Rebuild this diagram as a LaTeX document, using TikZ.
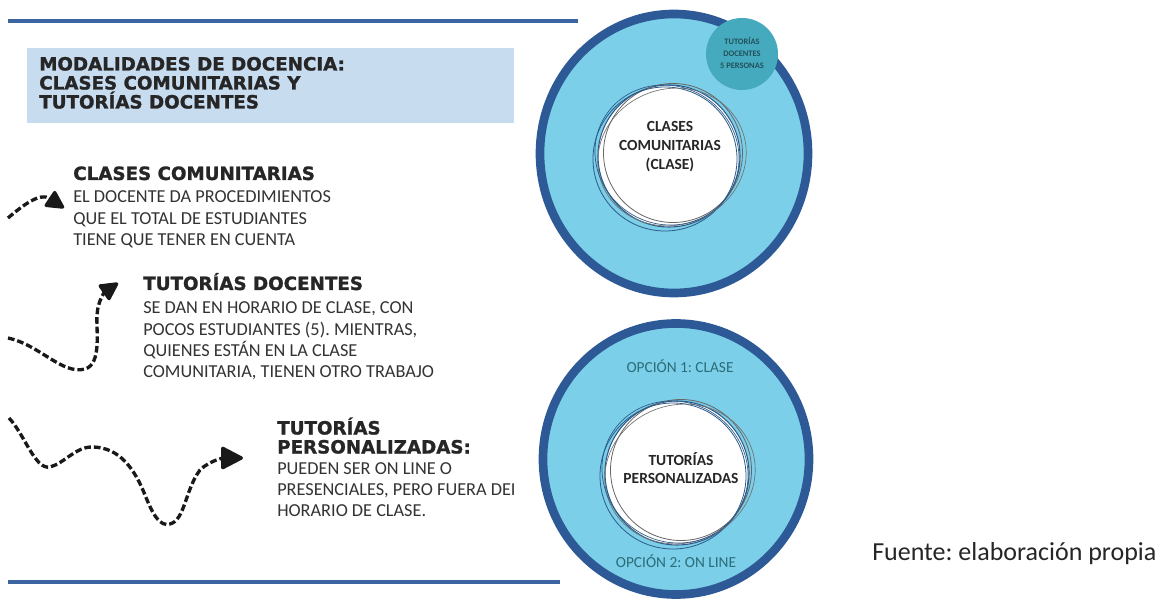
\documentclass[tikz,border=0pt]{standalone}
\usepackage{fontspec}
\setmainfont{Carlito}
\newfontfamily\headfont{DejaVu Sans}[BoldFeatures={FakeBold=1.3}]
\usetikzlibrary{arrows.meta}
\definecolor{ringblue}{HTML}{2D5A96}
\definecolor{ringfill}{HTML}{7CCFE8}
\definecolor{tealc}{HTML}{46AABE}
\definecolor{boxblue}{HTML}{C8DCF0}
\definecolor{lineblue}{HTML}{3C64A0}
\definecolor{txt}{HTML}{333333}
\definecolor{tealtxt}{HTML}{2B6C78}
\definecolor{sketchc}{HTML}{2C5A8A}
\frenchspacing
\begin{document}
\frenchspacing
\begin{tikzpicture}[x=0.75pt,y=-0.75pt,
  heading/.style={anchor=base west, inner sep=0, font=\headfont\bfseries\fontsize{13.7}{14.5}\selectfont, text=black!85},
  bodytext/.style={anchor=base west, inner sep=0, font=\fontsize{13.7}{16}\selectfont, text=txt},
  circlabel/.style={anchor=base, inner sep=0, font=\bfseries\fontsize{11.6}{13}\selectfont, text=black!85},
  optlabel/.style={anchor=base, inner sep=0, font=\fontsize{11.5}{13}\selectfont, text=tealtxt},
  smalllabel/.style={anchor=base, inner sep=0, font=\bfseries\fontsize{6.3}{7}\selectfont, text=tealtxt!75!black},
  wavy/.style={line width=2.5pt, dash pattern=on 5pt off 2.2pt, black!90, -{Triangle[length=15pt,width=15pt,round]}},
  rule/.style={line width=2.4pt, lineblue},
  ring/.style={line width=6.5pt, draw=ringblue, fill=ringfill},
  sketch/.style={line width=0.8pt, draw=sketchc}
]
\useasboundingbox (0,0) rectangle (1168,602);
\fill[white] (0,0) rectangle (1168,602);

% rules
\coordinate (r1a) at (8,21); \coordinate (r1b) at (578,21);
\coordinate (r2a) at (8,582); \coordinate (r2b) at (560,582);
\draw[rule] (r1a) -- (r1b);
\draw[rule] (r2a) -- (r2b);

% title box
\fill[boxblue] (27,48) rectangle (514,123);
\node[heading] (t1) at (39,70.5) {MODALIDADES DE DOCENCIA:};
\node[heading] (t2) at (39,89.5) {CLASES COMUNITARIAS Y};
\node[heading] (t3) at (39,108.5) {TUTORÍAS DOCENTES};

% section 1
\node[heading] (h1) at (73,180) {CLASES COMUNITARIAS};
\node[bodytext] (b11) at (73,203) {EL DOCENTE DA PROCEDIMIENTOS};
\node[bodytext] (b12) at (73,224.5) {QUE EL TOTAL DE ESTUDIANTES};
\node[bodytext] (b13) at (73,246) {TIENE QUE TENER EN CUENTA};

% section 2
\node[heading] (h2) at (143,290) {TUTORÍAS DOCENTES};
\node[bodytext] (b21) at (143,314) {SE DAN EN HORARIO DE CLASE, CON};
\node[bodytext] (b22) at (143,335.3) {POCOS ESTUDIANTES (5). MIENTRAS,};
\node[bodytext] (b23) at (143,356.6) {QUIENES ESTÁN EN LA CLASE};
\node[bodytext] (b24) at (143,378) {COMUNITARIA, TIENEN OTRO TRABAJO};

% section 3
\node[heading] (h3a) at (277,434.5) {TUTORÍAS};
\node[heading] (h3b) at (277,453.5) {PERSONALIZADAS:};
\node[bodytext] (b31) at (277,474) {PUEDEN SER ON LINE O};
\node[bodytext] (b32) at (277,495) {PRESENCIALES, PERO FUERA DEI};
\node[bodytext] (b33) at (277,516) {HORARIO DE CLASE.};

% arrows
\coordinate (a1s) at (8,218); \coordinate (a1e) at (64,208);
\draw[wavy] (a1s) .. controls (22,206) and (40,192) .. (a1e);
\coordinate (a2s) at (8,338); \coordinate (a2e) at (118,283);
\draw[wavy] (a2s) .. controls (40,345) and (62,375) .. (85,369)
   .. controls (102,364) and (96,330) .. (97,315)
   .. controls (98,300) and (105,292) .. (a2e);
\coordinate (a3s) at (9,418); \coordinate (a3e) at (243,458);
\draw[wavy, -{Triangle[length=18pt,width=18pt,round]}] (a3s) .. controls (25,435) and (35,470) .. (50,467)
   .. controls (65,463) and (75,447) .. (92,447)
   .. controls (120,447) and (135,470) .. (145,495)
   .. controls (153,515) and (160,527) .. (170,524)
   .. controls (185,520) and (185,490) .. (200,470)
   .. controls (210,460) and (225,458) .. (a3e);

% top circle
\draw[ring] (674,153.5) ellipse [x radius=134, y radius=139.5];
\fill[white] (669,156) circle [radius=71];
\draw[sketch] (669,156) circle [radius=71];
\draw[sketch, draw=black!60, line width=0.6pt] (673,153) circle [radius=69.5];
\draw[sketch, line width=0.6pt] (665,159) circle [radius=72];
\draw[sketch, draw=black!55, line width=0.5pt, rotate around={20:(672,157)}] (672,157) ellipse [x radius=75, y radius=68];
\draw[sketch, line width=0.5pt, rotate around={-30:(667,155)}] (667,155) ellipse [x radius=73, y radius=69];
\node[circlabel] (c1a) at (670,132) {CLASES};
\node[circlabel] (c1b) at (670,151) {COMUNITARIAS};
\node[circlabel] (c1c) at (670,170) {(CLASE)};

% small circle
\fill[tealc] (742,54) circle [radius=36];
\node[smalllabel] (s1) at (742,44.5) {TUTORÍAS};
\node[smalllabel] (s2) at (742,56.5) {DOCENTES};
\node[smalllabel] (s3) at (742,68.5) {5 PERSONAS};

% bottom circle
\draw[ring] (676,459) ellipse [x radius=133, y radius=135.5];
\fill[white] (677,473) circle [radius=72];
\draw[sketch] (677,473) circle [radius=72];
\draw[sketch, draw=black!60, line width=0.6pt] (681,470) circle [radius=70.5];
\draw[sketch, line width=0.6pt] (673,476) circle [radius=73];
\draw[sketch, draw=black!55, line width=0.5pt, rotate around={20:(680,474)}] (680,474) ellipse [x radius=76, y radius=69];
\draw[sketch, line width=0.5pt, rotate around={-30:(675,472)}] (675,472) ellipse [x radius=74, y radius=70];
\node[circlabel] (c2a) at (681,465) {TUTORÍAS};
\node[circlabel] (c2b) at (681,483) {PERSONALIZADAS};
\node[optlabel] (o1) at (680,373) {OPCIÓN 1: CLASE};
\node[optlabel] (o2) at (676,567) {OPCIÓN 2: ON LINE};

% source
\node[anchor=base west, inner sep=0, font=\fontsize{19.5}{22}\selectfont, text=black!85] (src) at (872,560.5) {Fuente: elaboración propia};
\end{tikzpicture}
\end{document}
